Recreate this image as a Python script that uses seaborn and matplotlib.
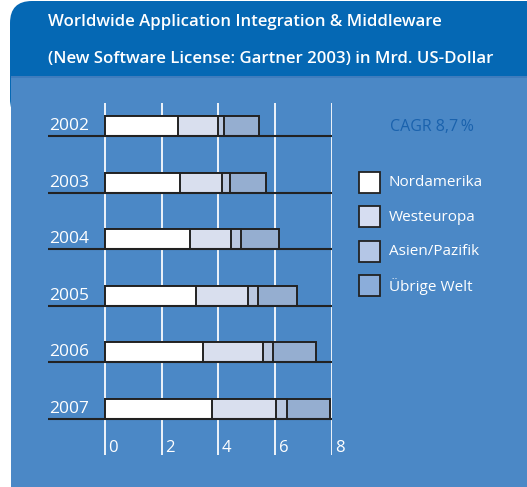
import matplotlib
matplotlib.use('Agg')
import matplotlib.pyplot as plt
from matplotlib.patches import Rectangle, FancyBboxPatch
import seaborn as sns
import pandas as pd
import numpy as np

# data (Mrd. US-Dollar)
years = ['2002', '2003', '2004', '2005', '2006', '2007']
regions = ['Nordamerika', 'Westeuropa', 'Asien/Pazifik', 'Übrige Welt']
nordamerika = [2.57, 2.64, 2.99, 3.20, 3.45, 3.79]
westeuropa = [1.40, 1.48, 1.47, 1.85, 2.11, 2.23]
asien_pazifik = [0.21, 0.28, 0.34, 0.35, 0.36, 0.40]
uebrige_welt = [1.24, 1.28, 1.32, 1.38, 1.50, 1.52]
ticks = [0, 2, 4, 6, 8]
colors = ['#ffffff', '#d6ddf1', '#b4c6e6', '#8badda']

sns.set_style('white')
plt.rcParams['font.family'] = ['Open Sans', 'DejaVu Sans']

W, H = 527, 487
fig = plt.figure(figsize=(W / 100, H / 100), dpi=100)

# background panel in pixel coordinates
bg = fig.add_axes([0, 0, 1, 1])
bg.set_xlim(0, W)
bg.set_ylim(H, 0)
bg.axis('off')
bg.add_patch(FancyBboxPatch((10, 1), 600, 120, boxstyle='round,pad=0,rounding_size=22',
                            fc='#0568b4', ec='none'))
bg.add_patch(Rectangle((11, 77), 600, 500, fc='#4b88c6', ec='none'))
bg.add_patch(Rectangle((11, 76), 600, 2, fc='#3f7cbd', ec='none'))
bg.text(48, 22, 'Worldwide Application Integration & Middleware', color='white',
        fontsize=12.1, fontweight='semibold', va='center', ha='left')
bg.text(48, 59, '(New Software License: Gartner 2003) in Mrd. US-Dollar', color='white',
        fontsize=12.1, fontweight='semibold', va='center', ha='left')
bg.text(432, 127, 'CAGR 8,7\u2009%', color='#1a62ad', fontsize=11.5, va='center', ha='center')

# legend
for k, (name, c) in enumerate(zip(regions, colors)):
    y0 = 172 + k * 34.4
    bg.add_patch(Rectangle((359, y0), 21, 21, fc=c, ec='#222222', lw=1.3))
    bg.text(389, y0 + 11, name, color='white', fontsize=11, va='center', ha='left')

# stacked bars: draw cumulative totals, largest first
parts = np.array([nordamerika, westeuropa, asien_pazifik, uebrige_welt])
cum = parts.cumsum(axis=0)
df = pd.DataFrame({
    'year': np.tile(years, 4),
    'region': np.repeat(regions, len(years)),
    'value': cum.ravel(),
})

ax = fig.add_axes([48 / W, (H - 455) / H, 284 / W, 352 / H])
for v in ticks:
    ax.axvline(v, color='#eef3fa', lw=1.4, zorder=0)
sns.barplot(data=df, x='value', y='year', hue='region', hue_order=regions[::-1],
            palette=colors[::-1], dodge=False, width=0.355, orient='h',
            edgecolor='#222222', linewidth=1.4, legend=False, ax=ax, zorder=3)
ax.hlines(np.arange(len(years)) + 0.178, -2.0, 8.0, color='#222222', lw=1.5, zorder=4)
for i, yr in enumerate(years):
    ax.text(-1.96, i, yr, color='white', fontsize=12.5, va='center', ha='left')
for v in ticks:
    ax.text(v + 0.12, 5.69, str(v), color='white', fontsize=12, va='center', ha='left')

ax.set_xlim(-2.0, 8.0)
ax.set_ylim(5.813, -0.406)
ax.set_xticks([])
ax.set_yticks([])
ax.set_xlabel('')
ax.set_ylabel('')
ax.patch.set_alpha(0)
for s in ax.spines.values():
    s.set_visible(False)

fig.savefig('out.png', dpi=100)
